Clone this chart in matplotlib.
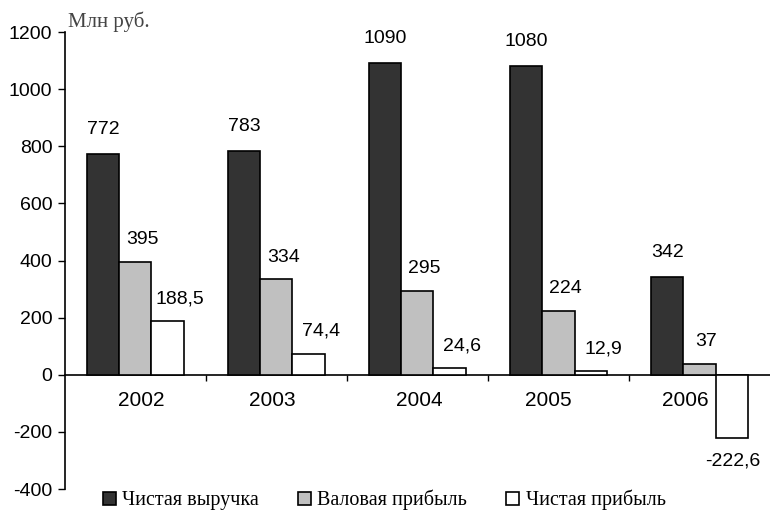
import numpy as np
import matplotlib
matplotlib.use('Agg')
import matplotlib.pyplot as plt
import matplotlib.transforms as mtransforms
from matplotlib.patches import Patch

plt.rcParams['axes.unicode_minus'] = False

# Data (млн руб.)
years = ['2002', '2003', '2004', '2005', '2006']
revenue = [772, 783, 1090, 1080, 342]
gross_profit = [395, 334, 295, 224, 37]
net_profit = [188.5, 74.4, 24.6, 12.9, -222.6]
series_names = ['Чистая выручка', 'Валовая прибыль', 'Чистая прибыль']

sans = 'Liberation Sans'
serif = 'Liberation Serif'

fig = plt.figure(figsize=(7.7, 5.14), dpi=100)
ax = fig.add_axes([0.0844, 0.0486, 0.9156, 0.8891])

x = np.arange(len(years))
w = 0.227
colors = ['#333333', '#c0c0c0', '#ffffff']
all_series = [revenue, gross_profit, net_profit]
# label offsets in points (dx, dy) for each series
label_offsets = [(0, 18), (5, 16), (9, 16)]

for i, (vals, col) in enumerate(zip(all_series, colors)):
    pos = x + (i - 1) * w
    ax.bar(pos, vals, width=w, color=col, edgecolor='black', linewidth=1.2, zorder=3)
    dx, dy = label_offsets[i]
    for px, v in zip(pos, vals):
        txt = f'{v:g}'.replace('.', ',')
        if v < 0:
            dx, off = 1, -dy
        else:
            off = dy
        ax.annotate(txt, (px, v), xytext=(dx, off), textcoords='offset points',
                    ha='center', va='center', fontsize=14, family=sans)

ax.set_xlim(-0.5, 4.5)
ax.set_ylim(-400, 1200)
ax.set_yticks(range(-400, 1201, 200))
ax.tick_params(axis='y', direction='out', length=5, width=1, labelsize=14, pad=4)
for lbl in ax.get_yticklabels():
    lbl.set_family(sans)

# category boundaries as ticks on the zero line, year labels in between
ax.spines['bottom'].set_position(('data', 0))
ax.set_xticks(np.arange(0.5, 4.5, 1))
ax.set_xticklabels([])
ax.tick_params(axis='x', which='major', direction='out', length=4, width=1)
ax.set_xticks(x, minor=True)
ax.set_xticklabels(years, minor=True, fontsize=15, family=sans)
ax.tick_params(axis='x', which='minor', length=0, pad=12)

# nudge year labels sideways (pixels)
year_shift = [6, -4, 2, -10, -14]
for lbl, s in zip(ax.get_xticklabels(minor=True), year_shift):
    lbl.set_transform(lbl.get_transform() +
                      mtransforms.ScaledTranslation(s / 100, 0, fig.dpi_scale_trans))

ax.spines['top'].set_visible(False)
ax.spines['right'].set_visible(False)
ax.spines['left'].set_linewidth(1.2)
ax.spines['bottom'].set_linewidth(1.2)

fig.text(0.088, 0.958, 'Млн руб.', family=serif, fontsize=15, color='#444444',
         ha='left', va='center')

handles = [Patch(facecolor=c, edgecolor='black', linewidth=1.2) for c in colors]
fig.legend(handles, series_names, loc='center', bbox_to_anchor=(0.499, 0.027),
           ncol=3, frameon=False, prop={'family': serif, 'size': 14.5},
           handlelength=0.65, handleheight=0.65, handletextpad=0.3,
           columnspacing=1.95, borderaxespad=0)

fig.savefig('out.png', dpi=100)
